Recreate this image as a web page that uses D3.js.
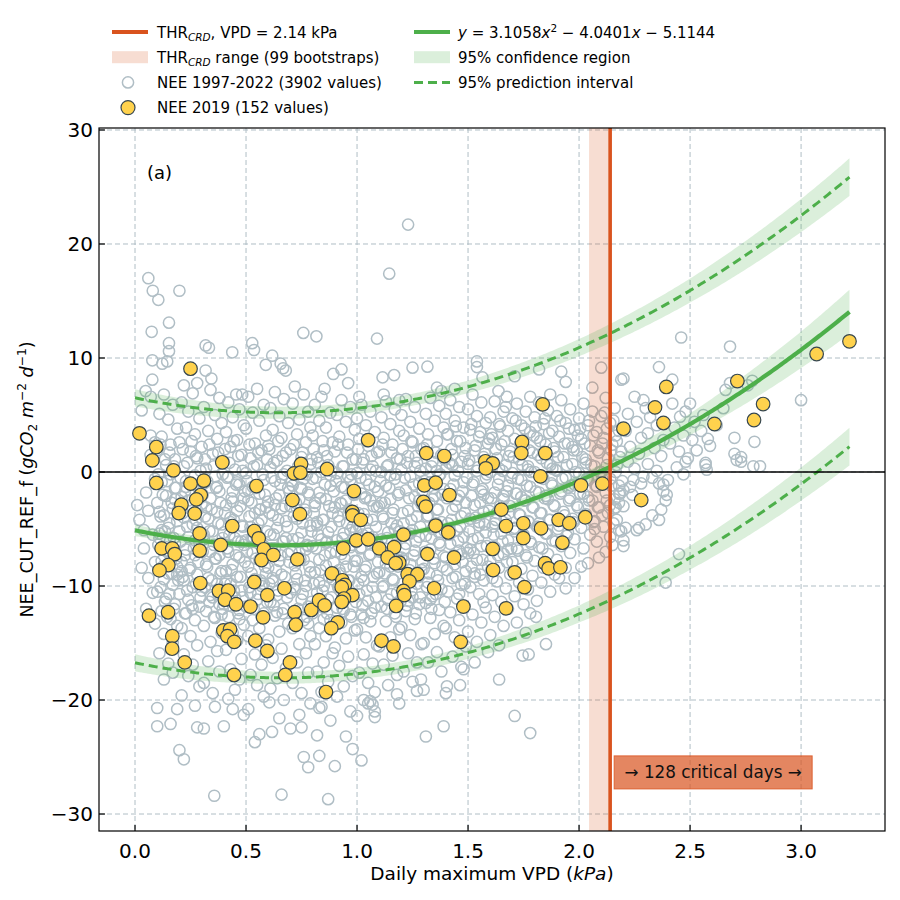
<!DOCTYPE html>
<html><head><meta charset="utf-8">
<script src="https://cdn.jsdelivr.net/npm/d3@7"></script>
<style>body{margin:0;background:#fff}svg{font-family:"DejaVu Sans",sans-serif}</style>
</head><body><svg id="c" width="900" height="900"></svg>
<script>
// ---------------- data ----------------
const fitCoef = [3.1058, -4.0401, -5.1144];   // y = a x^2 + b x + c
const thrVPD = 2.14;
const thrRange = [2.045, 2.145];
const criticalDays = 128;
const xTicks = [0, 0.5, 1, 1.5, 2, 2.5, 3];
const yTicks = [-30, -20, -10, 0, 10, 20, 30];
const fitXMax = 3.218;
// band half-widths read at these VPD values
const bandX      = [0, 0.5, 1, 1.5, 2, 2.5, 3, 3.218];
const confHW     = [0.5, 0.3, 0.25, 0.3, 0.5, 0.95, 1.6, 1.95];
const predHW     = [11.62, 11.62, 11.64, 11.66, 11.68, 11.72, 11.78, 11.82];
const predBandHW = [0.75, 0.55, 0.5, 0.55, 0.75, 1.05, 1.45, 1.65];

// NEE 1997-2022, flat pairs [vpd, nee, ...]
const greyPts = [
.03,5.4,.07,3.2,.01,-2.9,.05,-1.8,.09,-.6,.02,-4.2,.06,-3.4,.08,-5.5,.04,-6.7,.09,-7.9,.06,-9.3,.03,-8.4,.08,-10.6,.05,-12,.09,-13.3,.07,1.5,.09,2.6,.04,-5.1,.06,17,.08,15.9,.075,12.3,.078,9.8,.078,8.1,.048,7.1,.071,6.6,
.105,15.1,.153,13.1,.153,11.3,.153,10.6,.123,9.5,.145,9.7,.1,-20.7,.1,-22.3,.16,-22.1,.19,-20.8,
.13,6.8,.17,5.9,.11,5.1,.15,4.6,.19,3.8,.12,3.1,.16,2.4,.1,1.9,.18,1.1,.14,.6,.16,-.2,.12,-.9,.18,-1.4,.14,-2.1,.1,-2.7,.17,-3.2,.13,-3.8,.19,-4.3,.15,-4.9,.11,-5.4,.11,-5.8,.18,-6.3,.14,-6.9,.16,-7.4,.12,-7.8,.19,-8.3,.15,-8.9,.13,-9.4,.17,-9.9,.1,-10.5,.14,-11.1,.18,-11.6,.12,-12.2,.16,-12.9,.19,-13.5,.13,-14.2,.17,-15,.11,-15.9,.15,-16.8,.18,-2.4,.12,-5.1,.16,-7.1,.19,-9,.11,-3.5,.14,-6.6,.13,-18.2,.17,-17.6,
.2,15.9,.22,7.6,.28,7.8,.2,-24.4,.22,-25.2,.28,-22.4,
.26,6.9,.21,6.1,.24,5.3,.29,4.7,.23,3.9,.27,3.3,.2,2.6,.25,1.8,.28,1.2,.22,.5,.27,-.3,.23,-.8,.29,-1.6,.21,-2.2,.25,-2.9,.28,-3.4,.22,-4,.26,-4.6,.2,-5.2,.24,-5.7,.29,-6.2,.23,-6.8,.27,-7.3,.21,-7.9,.25,-8.4,.28,-9,.22,-9.5,.26,-10.1,.2,-10.7,.24,-11.2,.29,-11.8,.23,-12.4,.27,-13,.21,-13.7,.25,-14.4,.28,-15.2,.22,-16,.26,-16.9,.24,-17.9,.29,-18.8,.21,-19.6,.27,-20.5,.23,-1.3,.28,-4.9,.21,-8.7,.26,-12,.24,-2.5,.27,-6,
.318,11.1,.333,10.9,.318,8.9,.344,8.2,.31,-22.5,.357,-28.4,
.34,7.2,.38,6.5,.31,5.7,.36,5,.39,4.3,.33,3.6,.37,2.9,.3,2.2,.35,1.6,.39,.9,.32,.3,.36,-.4,.31,-1,.38,-1.7,.34,-2.3,.3,-2.8,.37,-3.5,.33,-4.1,.39,-4.6,.35,-5.2,.31,-5.9,.38,-6.4,.34,-7,.36,-7.6,.32,-8.1,.39,-8.7,.33,-9.3,.37,-9.8,.3,-10.4,.35,-11,.38,-11.6,.32,-12.2,.36,-12.8,.31,-13.5,.39,-14.1,.34,-14.9,.37,-15.7,.33,-16.6,.38,-17.5,.31,-18.5,.35,-19.4,.36,-20.6,.32,-3.1,.38,-7.3,.34,-10.8,.37,-1.3,.31,-5.5,.39,-12.5,
.438,10.5,.456,6.8,.483,6.8,.4,-22.3,.44,-20.8,
.42,6.1,.47,5.5,.44,4.8,.49,4.1,.41,3.5,.46,2.8,.43,2.2,.48,1.5,.4,.9,.45,.2,.42,-.4,.47,-1.1,.44,-1.7,.49,-2.3,.41,-2.9,.46,-3.4,.43,-4,.48,-4.7,.4,-5.3,.45,-5.8,.49,-6.4,.42,-7,.47,-7.5,.44,-8.1,.41,-8.7,.46,-9.2,.43,-9.8,.48,-10.4,.45,-11,.4,-11.6,.47,-12.1,.42,-12.7,.49,-13.4,.44,-14.1,.46,-14.8,.41,-15.6,.48,-16.4,.43,-17.3,.47,-18.2,.45,-19.1,.42,-19.9,.49,-21.3,.44,-2.6,.48,-6.1,.41,-9.5,.46,-.9,.43,-4.4,.47,-12.9,
.528,11.3,.536,10.7,.589,9.4,.56,-23,.54,-23.7,
.55,7.3,.51,6.6,.58,5.9,.53,5.2,.56,4.5,.5,3.8,.59,3.2,.54,2.5,.57,1.9,.52,1.2,.55,.6,.5,-.1,.58,-.7,.53,-1.3,.56,-1.9,.51,-2.5,.59,-3.1,.54,-3.6,.57,-4.2,.52,-4.8,.55,-5.4,.5,-6,.58,-6.5,.53,-7.1,.56,-7.7,.51,-8.3,.59,-8.9,.54,-9.4,.57,-10,.52,-10.6,.55,-11.2,.5,-11.8,.58,-12.4,.53,-13,.56,-13.7,.51,-14.4,.59,-15.2,.54,-16,.57,-16.9,.52,-17.8,.55,-18.7,.58,-19.7,.51,-20.8,.56,-3.3,.53,-5.7,.58,-9.8,.51,-1.6,.57,-12.7,
.605,-20.2,.617,-22.8,.618,10.2,.656,9.5,.679,8.9,.667,9.1,.66,-28.3,
.63,7,.67,6.4,.61,5.6,.65,4.9,.69,4.3,.62,3.7,.66,3,.6,2.3,.68,1.7,.64,1,.61,.4,.67,-.2,.63,-.8,.69,-1.4,.65,-2,.6,-2.6,.66,-3.2,.62,-3.8,.68,-4.3,.64,-4.9,.61,-5.5,.67,-6.1,.63,-6.7,.69,-7.2,.65,-7.8,.6,-8.4,.66,-9,.62,-9.6,.68,-10.2,.64,-10.8,.61,-11.4,.67,-12,.63,-12.6,.69,-13.3,.65,-14,.6,-14.7,.66,-15.5,.62,-16.3,.68,-17.2,.64,-18.1,.61,-19,.67,-20,.65,-21.6,.63,-2.9,.68,-5.8,.62,-9.3,.66,-.5,.64,-12.3,
.758,12.2,.7,-22.5,.75,-22.4,.74,-21.3,.76,-25,.78,-25.9,
.72,7.5,.76,6.8,.71,6,.78,5.3,.74,4.6,.79,3.9,.73,3.3,.77,2.6,.7,2,.75,1.3,.79,.7,.72,0,.76,-.6,.71,-1.2,.78,-1.8,.74,-2.4,.7,-3,.77,-3.6,.73,-4.1,.79,-4.7,.75,-5.3,.71,-5.9,.78,-6.5,.74,-7.1,.76,-7.7,.72,-8.2,.79,-8.8,.73,-9.4,.77,-10,.7,-10.6,.75,-11.2,.78,-11.8,.72,-12.4,.76,-13,.71,-13.7,.79,-14.4,.74,-15.1,.77,-15.9,.73,-16.7,.78,-17.6,.71,-18.5,.75,-19.4,.79,-20.3,.73,-3.3,.77,-6.8,.72,-10.3,.75,-1.5,.78,-13.3,
.817,11.9,.893,8.6,.854,7.3,.83,-20.7,.84,-20.6,.82,-23.1,.83,-24.9,.87,-28.7,
.84,6.6,.81,5.9,.88,5.2,.83,4.5,.86,3.9,.8,3.2,.89,2.6,.85,1.9,.82,1.3,.87,.6,.84,0,.8,-.6,.88,-1.2,.83,-1.8,.86,-2.4,.81,-3,.89,-3.6,.85,-4.2,.82,-4.7,.87,-5.3,.84,-5.9,.8,-6.5,.88,-7.1,.83,-7.7,.86,-8.2,.81,-8.8,.89,-9.4,.85,-10,.82,-10.6,.87,-11.2,.84,-11.8,.8,-12.4,.88,-13,.83,-13.7,.86,-14.4,.81,-15.1,.89,-15.9,.85,-16.7,.82,-17.5,.87,-18.4,.84,-19.3,.88,-21.8,.81,-2.7,.86,-6.2,.83,-9.7,.88,-.3,.85,-12.9,.82,-4.4,
.9,-25.8,.93,9,.96,7.8,
.93,6.3,.97,5.7,.91,5,.95,4.4,.99,3.7,.92,3.1,.96,2.4,.9,1.8,.98,1.1,.94,.5,.91,-.1,.97,-.7,.93,-1.3,.99,-1.9,.95,-2.5,.9,-3.1,.96,-3.7,.92,-4.3,.98,-4.8,.94,-5.4,.91,-6,.97,-6.6,.93,-7.2,.99,-7.8,.95,-8.3,.9,-8.9,.96,-9.5,.92,-10.1,.98,-10.7,.94,-11.3,.91,-11.9,.97,-12.5,.93,-13.2,.99,-13.9,.95,-14.6,.9,-15.4,.96,-16.2,.92,-17,.98,-17.9,.94,-18.8,.91,-19.7,.97,-21,.95,-23.2,.93,-2.8,.97,-5.1,.92,-8.6,.96,-.4,.94,-12.2,
1,-21.4,.98,-24.3,1.02,-25.3,1.01,6.6,1.05,-20.3,1.07,-20.4,1.08,-21,1.08,-21.5,1.03,-20,1.06,-20.1,1.09,11.7,
1.02,5.9,1.06,5.3,1,4.7,1.04,4.1,1.08,3.5,1.01,2.9,1.05,2.3,1.09,1.7,1.03,1.1,1.07,.5,1,-.1,1.04,-.7,1.08,-1.3,1.02,-1.9,1.06,-2.5,1.09,-3.1,1.03,-3.7,1.07,-4.2,1.01,-4.8,1.05,-5.4,1.08,-6,1.02,-6.6,1.06,-7.2,1,-7.8,1.04,-8.3,1.09,-8.9,1.03,-9.5,1.07,-10.1,1.01,-10.7,1.05,-11.3,1.08,-11.9,1.02,-12.5,1.06,-13.1,1,-13.8,1.04,-14.5,1.09,-15.2,1.03,-16,1.07,-16.8,1.01,-17.6,1.05,-18.5,1.08,-19.3,1.04,-2.2,1.07,-5.7,1.02,-9.2,1.06,.2,1.03,-12.8,
1.115,8.3,1.167,8.5,1.18,-19.5,1.19,-20.3,1.145,17.4,
1.13,6.2,1.17,5.5,1.11,4.8,1.15,4.2,1.19,3.6,1.12,3,1.16,2.4,1.1,1.8,1.18,1.2,1.14,.6,1.11,0,1.17,-.6,1.13,-1.2,1.19,-1.8,1.15,-2.4,1.1,-3,1.16,-3.6,1.12,-4.1,1.18,-4.7,1.14,-5.3,1.11,-5.9,1.17,-6.5,1.13,-7.1,1.19,-7.7,1.15,-8.3,1.1,-8.8,1.16,-9.4,1.12,-10,1.18,-10.6,1.14,-11.2,1.11,-11.8,1.17,-12.4,1.13,-13.1,1.19,-13.8,1.15,-14.5,1.1,-15.3,1.16,-16.1,1.12,-16.9,1.18,-17.8,1.14,-18.7,1.11,-2.7,1.17,-5,1.13,-8,1.15,-.3,1.18,-11.5,1.12,6.8,
1.23,21.7,1.25,9.15,1.19,6.3,
1.22,6.4,1.26,5.7,1.2,5,1.24,4.4,1.28,3.8,1.21,3.2,1.25,2.6,1.29,2,1.23,1.4,1.27,.8,1.2,.2,1.24,-.4,1.28,-1,1.22,-1.6,1.26,-2.2,1.29,-2.8,1.23,-3.4,1.27,-3.9,1.21,-4.5,1.25,-5.1,1.28,-5.7,1.22,-6.3,1.26,-6.9,1.2,-7.5,1.24,-8.1,1.29,-8.6,1.23,-9.2,1.27,-9.8,1.21,-10.4,1.25,-11,1.28,-11.6,1.22,-12.2,1.26,-12.9,1.2,-13.6,1.24,-14.3,1.29,-15.1,1.23,-15.9,1.27,-16.7,1.21,-17.5,1.25,-18.4,1.28,-2.5,1.24,-5.4,1.21,-7.8,1.26,.5,1.23,-11.3,1.27,-19.2,
1.317,9.24,1.36,7.4,1.288,-18.2,1.3,-19.1,1.31,-23.2,
1.33,6.5,1.37,5.8,1.31,5.1,1.35,4.5,1.39,3.9,1.32,3.3,1.36,2.7,1.3,2.1,1.38,1.5,1.34,.9,1.31,.3,1.37,-.3,1.33,-.9,1.39,-1.5,1.35,-2.1,1.3,-2.7,1.36,-3.3,1.32,-3.8,1.38,-4.4,1.34,-5,1.31,-5.6,1.37,-6.2,1.33,-6.8,1.39,-7.4,1.35,-8,1.3,-8.5,1.36,-9.1,1.32,-9.7,1.38,-10.3,1.34,-10.9,1.31,-11.5,1.37,-12.1,1.33,-12.8,1.39,-13.5,1.35,-14.2,1.3,-15,1.36,-15.8,1.32,-16.7,1.38,-17.5,1.34,-2.4,1.37,-5.3,1.32,-7.1,1.36,.1,1.33,-11.2,1.38,7.1,
1.39,-22.3,1.4,-19.4,1.405,-18.8,1.48,-17.3,1.464,-18.7,
1.42,6.3,1.46,5.7,1.4,5.1,1.44,4.5,1.48,3.9,1.41,3.3,1.45,2.7,1.49,2.1,1.43,1.5,1.47,.9,1.4,.3,1.44,-.3,1.48,-.9,1.42,-1.5,1.46,-2.1,1.49,-2.7,1.43,-3.3,1.47,-3.9,1.41,-4.5,1.45,-5.1,1.48,-5.7,1.42,-6.3,1.46,-6.9,1.4,-7.5,1.44,-8.1,1.49,-8.7,1.43,-9.3,1.47,-9.9,1.41,-10.5,1.45,-11.1,1.48,-11.7,1.42,-12.3,1.46,-13,1.4,-13.7,1.44,-14.5,1.49,-15.3,1.43,-16.2,1.47,-17.1,1.45,-2.4,1.41,-5.4,1.47,-7.2,1.43,.6,1.46,-10.7,1.44,7.3,
1.54,9.7,1.54,9.2,1.565,8.3,1.57,-11.4,
1.52,6.8,1.56,6.1,1.5,5.5,1.54,4.9,1.58,4.3,1.51,3.7,1.55,3.1,1.59,2.5,1.53,1.9,1.57,1.3,1.5,.7,1.54,.1,1.58,-.5,1.52,-1.1,1.56,-1.7,1.59,-2.3,1.53,-2.9,1.57,-3.5,1.51,-4.1,1.55,-4.7,1.58,-5.3,1.52,-5.9,1.56,-6.5,1.5,-7.1,1.54,-7.7,1.59,-8.3,1.53,-8.9,1.57,-9.5,1.51,-10.1,1.55,-10.7,1.58,-11.9,1.52,-12.5,1.56,-13.2,1.5,-14,1.54,-14.9,1.59,-15.8,1.53,-16.7,1.57,-2,1.55,-4.4,1.51,-6.8,1.58,.4,1.53,-9.2,
1.637,7.1,1.674,6.6,1.67,5.7,1.64,-18.2,
1.62,6.2,1.66,5.3,1.6,4.8,1.64,4.2,1.68,3.6,1.61,3,1.65,2.4,1.69,1.8,1.63,1.2,1.67,.6,1.6,0,1.64,-.6,1.68,-1.2,1.62,-1.8,1.66,-2.4,1.69,-3,1.63,-3.6,1.67,-4.2,1.61,-4.8,1.65,-5.4,1.68,-6,1.62,-6.6,1.66,-7.2,1.6,-7.8,1.64,-8.4,1.69,-9,1.63,-9.6,1.67,-10.2,1.61,-10.8,1.65,-11.4,1.68,-12,1.62,-12.7,1.66,-13.5,1.6,-14.3,1.64,-15.2,1.66,-2.1,1.62,-4.5,1.68,-6.8,1.64,.3,1.61,-9.3,
1.71,8.4,1.78,6.6,1.746,-16.1,1.773,-16,1.71,-21.4,1.78,-22.9,
1.72,6,1.76,5.3,1.7,4.7,1.74,4.1,1.78,3.5,1.71,2.9,1.75,2.3,1.79,1.7,1.73,1.1,1.77,.5,1.7,-.1,1.74,-.7,1.78,-1.3,1.72,-1.9,1.76,-2.5,1.79,-3.1,1.73,-3.7,1.77,-4.3,1.71,-4.9,1.75,-5.5,1.78,-6.1,1.72,-6.7,1.76,-7.3,1.7,-7.9,1.74,-8.5,1.79,-9.1,1.73,-9.7,1.77,-10.3,1.71,-10.9,1.75,-11.6,1.78,-12.4,1.72,-13.2,1.76,-14.1,1.74,-2.2,1.71,-5.2,1.77,.2,
1.82,9,1.87,6.8,1.806,-12.7,1.851,-15.1,
1.82,6.1,1.86,5.4,1.8,4.8,1.84,4.2,1.88,3.6,1.81,3,1.85,2.4,1.89,1.8,1.83,1.2,1.87,.6,1.8,0,1.84,-.6,1.88,-1.2,1.82,-1.8,1.86,-2.4,1.89,-3,1.83,-3.6,1.87,-4.2,1.81,-4.8,1.85,-5.4,1.88,-6,1.82,-6.6,1.86,-7.2,1.8,-7.8,1.84,-8.4,1.89,-9,1.83,-9.7,1.87,-10.5,1.81,-11.3,1.85,-2.1,1.82,-4.5,1.88,.3,
1.92,8.8,1.94,7.9,1.98,-9.3,1.94,-10.2,
1.92,6.3,1.96,5.5,1.9,4.9,1.94,4.3,1.98,3.7,1.91,3.1,1.95,2.5,1.99,1.9,1.93,1.3,1.97,.7,1.9,.1,1.94,-.5,1.98,-1.1,1.92,-1.7,1.96,-2.3,1.99,-2.9,1.93,-3.5,1.97,-4.1,1.91,-4.7,1.95,-5.3,1.98,-5.9,1.92,-6.5,1.96,-7.1,1.9,-7.7,1.94,-8.4,1.91,-9.3,1.95,-1.4,1.97,2.2,
2.01,-8.3,2.04,-8,2.09,-7.5,2.1,9.15,
2.02,6,2.06,5.3,2,4.7,2.04,4.1,2.08,3.5,2.01,2.9,2.05,2.3,2.09,1.7,2.03,1.1,2.07,.5,2,-.1,2.04,-.7,2.08,-1.3,2.02,-1.9,2.06,-2.5,2.09,-3.1,2.03,-3.7,2.07,-4.3,2.01,-4.9,2.05,-5.5,2.08,-6.1,2.02,-6.7,2.06,7.4,2.04,-2.2,2.07,-5,2.03,.8,
2.12,6.5,2.16,5.6,2.1,4.9,2.14,4.3,2.18,3.6,2.11,3,2.15,2.4,2.19,1.8,2.13,1.2,2.17,.6,2.1,0,2.14,-.6,2.18,-1.2,2.12,-1.8,2.16,-2.4,2.13,-3.6,2.17,-4.2,2.11,-4.8,2.15,-6.4,2.12,-7,2.14,-2.9,2.17,2.7,
2.195,-.8,2.2,-1.6,2.18,-1.9,2.24,-2,2.18,-2.7,2.2,-3,2.16,-3.2,2.155,-4.5,2.18,-5.1,2.2,-6,2.2,-6.5,2.14,-5.7,2.26,-5.1,2.27,-4.9,2.28,-1,2.245,-.7,2.19,-5.2,2.21,-4.9,2.25,6.6,2.29,6.3,2.22,5.1,2.26,4.4,2.21,3.6,2.28,3,2.23,2.2,2.27,1.6,2.22,.9,2.25,.3,2.29,-.4,2.23,-1.3,2.2,8.2,2.19,8.1,
2.3,-4.6,2.33,-3.8,2.36,-4.2,2.37,-3.3,2.39,-2.5,2.38,-1.7,2.395,-2,2.38,-1.1,2.36,-1,2.3,5.6,2.36,9.2,2.32,4.8,2.35,4.1,2.31,3.4,2.38,2.8,2.34,2.1,2.37,1.4,2.31,.7,2.35,.1,2.33,-.5,2.39,-9.7,
2.4,-.7,2.45,-7.2,2.48,.9,2.42,8.1,2.46,11.8,2.455,4.85,2.48,5.3,2.43,3.9,2.47,3.2,2.41,2.5,2.45,1.8,2.49,1.2,2.44,.4,2.42,6,2.47,-.2,
2.5,6,2.52,4.4,2.55,3.6,2.51,2.8,2.57,.8,2.575,.2,2.57,.6,2.53,1.9,2.58,2.9,2.56,5,
2.59,2.3,2.66,7.2,2.68,7.8,2.65,5.6,2.68,11,2.7,3,2.7,1.6,2.73,1.3,2.71,1.05,2.73,.9,2.79,2.65,2.785,.5,2.815,.5,2.62,4.1,3,6.3,2.76,7.6,2.78,8
];
// NEE 1997-2022, densest part of the cloud, flat pairs
const greyCore = [
.115,2.4,.155,1.7,.135,1.1,.175,.5,.105,-.2,.145,-.8,.185,-1.4,.125,-2,.165,-2.7,.195,-3.3,.115,-3.9,.155,-4.5,.135,-5.2,.175,-5.8,.105,-6.4,.145,-7,.185,-7.6,.125,-8.3,.165,-8.9,.195,-9.5,.115,-10.1,.155,-10.7,.135,-11.4,.175,-12,.145,-12.7,
.255,2.7,.215,2,.275,1.4,.235,.8,.295,.1,.205,-.5,.265,-1.1,.225,-1.7,.285,-2.3,.245,-3,.215,-3.6,.275,-4.2,.235,-4.8,.295,-5.5,.205,-6.1,.265,-6.7,.225,-7.3,.285,-7.9,.245,-8.6,.215,-9.2,.275,-9.8,.235,-10.4,.295,-11,.255,-11.7,.225,-12.4,
.335,2.4,.375,1.7,.315,1.1,.355,.5,.395,-.2,.325,-.8,.365,-1.4,.305,-2,.385,-2.7,.345,-3.3,.315,-3.9,.375,-4.5,.335,-5.2,.395,-5.8,.355,-6.4,.305,-7,.365,-7.6,.325,-8.3,.385,-8.9,.345,-9.5,.315,-10.1,.375,-10.7,.335,-11.4,.395,-12,.355,-12.7,
.445,2.7,.405,2,.465,1.4,.425,.8,.485,.1,.415,-.5,.455,-1.1,.495,-1.7,.435,-2.3,.475,-3,.405,-3.6,.445,-4.2,.485,-4.8,.425,-5.5,.465,-6.1,.415,-6.7,.455,-7.3,.495,-7.9,.435,-8.6,.475,-9.2,.405,-9.8,.445,-10.4,.485,-11,.425,-11.7,.465,-12.4,
.515,2.4,.555,1.7,.595,1.1,.535,.5,.575,-.2,.505,-.8,.545,-1.4,.585,-2,.525,-2.7,.565,-3.3,.515,-3.9,.555,-4.5,.595,-5.2,.535,-5.8,.575,-6.4,.505,-7,.545,-7.6,.585,-8.3,.525,-8.9,.565,-9.5,.515,-10.1,.555,-10.7,.595,-11.4,.535,-12,.575,-12.7,
.645,2.7,.605,2,.665,1.4,.625,.8,.685,.1,.615,-.5,.655,-1.1,.695,-1.7,.635,-2.3,.675,-3,.605,-3.6,.645,-4.2,.685,-4.8,.625,-5.5,.665,-6.1,.615,-6.7,.655,-7.3,.695,-7.9,.635,-8.6,.675,-9.2,.605,-9.8,.645,-10.4,.685,-11,.625,-11.7,.665,-12.4,
.715,2.4,.755,1.7,.795,1.1,.735,.5,.775,-.2,.705,-.8,.745,-1.4,.785,-2,.725,-2.7,.765,-3.3,.715,-3.9,.755,-4.5,.795,-5.2,.735,-5.8,.775,-6.4,.705,-7,.745,-7.6,.785,-8.3,.725,-8.9,.765,-9.5,.715,-10.1,.755,-10.7,.795,-11.4,.735,-12,.775,-12.7,
.845,2.7,.805,2,.865,1.4,.825,.8,.885,.1,.815,-.5,.855,-1.1,.895,-1.7,.835,-2.3,.875,-3,.805,-3.6,.845,-4.2,.885,-4.8,.825,-5.5,.865,-6.1,.815,-6.7,.855,-7.3,.895,-7.9,.835,-8.6,.875,-9.2,.805,-9.8,.845,-10.4,.885,-11,.825,-11.7,.865,-12.4,
.915,2.4,.955,1.7,.995,1.1,.935,.5,.975,-.2,.905,-.8,.945,-1.4,.985,-2,.925,-2.7,.965,-3.3,.915,-3.9,.955,-4.5,.995,-5.2,.935,-5.8,.975,-6.4,.905,-7,.945,-7.6,.985,-8.3,.925,-8.9,.965,-9.5,.915,-10.1,.955,-10.7,.995,-11.4,.935,-12,.975,-12.7,
1.045,2.7,1.005,2,1.065,1.4,1.025,.8,1.085,.1,1.015,-.5,1.055,-1.1,1.095,-1.7,1.035,-2.3,1.075,-3,1.005,-3.6,1.045,-4.2,1.085,-4.8,1.025,-5.5,1.065,-6.1,1.015,-6.7,1.055,-7.3,1.095,-7.9,1.035,-8.6,1.075,-9.2,1.005,-9.8,1.045,-10.4,1.085,-11,1.025,-11.7,1.065,-12.4,
1.115,2.4,1.155,1.7,1.195,1.1,1.135,.5,1.175,-.2,1.105,-.8,1.145,-1.4,1.185,-2,1.125,-2.7,1.165,-3.3,1.115,-3.9,1.155,-4.5,1.195,-5.2,1.135,-5.8,1.175,-6.4,1.105,-7,1.145,-7.6,1.185,-8.3,1.125,-8.9,1.165,-9.5,1.115,-10.1,1.155,-10.7,1.195,-11.4,1.135,-12,1.175,-12.7,
1.245,2.7,1.205,2,1.265,1.4,1.225,.8,1.285,.1,1.215,-.5,1.255,-1.1,1.295,-1.7,1.235,-2.3,1.275,-3,1.205,-3.6,1.245,-4.2,1.285,-4.8,1.225,-5.5,1.265,-6.1,1.215,-6.7,1.255,-7.3,1.295,-7.9,1.235,-8.6,1.275,-9.2,1.205,-9.8,1.245,-10.4,1.285,-11,1.225,-11.7,1.265,-12.4,
1.315,2.4,1.355,1.7,1.395,1.1,1.335,.5,1.375,-.2,1.305,-.8,1.345,-1.4,1.385,-2,1.325,-2.7,1.365,-3.3,1.315,-3.9,1.355,-4.5,1.395,-5.2,1.335,-5.8,1.375,-6.4,1.305,-7,1.345,-7.6,1.385,-8.3,1.325,-8.9,1.365,-9.5,1.315,-10.1,1.355,-10.7,1.395,-11.4,1.335,-12,
1.445,4,1.405,3.3,1.465,2.7,1.425,2,1.485,1.4,1.415,.8,1.455,.1,1.495,-.5,1.435,-1.1,1.475,-1.7,1.405,-2.3,1.445,-3,1.485,-3.6,1.425,-4.2,1.465,-4.8,1.415,-5.5,1.455,-6.1,1.495,-6.7,1.435,-7.3,1.475,-7.9,1.405,-8.6,1.445,-9.2,1.485,-9.8,
1.515,4.2,1.555,3.5,1.595,2.9,1.535,2.3,1.575,1.6,1.505,1,1.545,.4,1.585,-.2,1.525,-.9,1.565,-1.5,1.515,-2.1,1.555,-2.7,1.595,-3.4,1.535,-4,1.575,-4.6,1.505,-5.2,1.545,-5.8,1.585,-6.5,1.525,-7.1,1.565,-7.7,1.515,-8.3,1.555,-9,
1.645,4,1.605,3.3,1.665,2.7,1.625,2,1.685,1.4,1.615,.8,1.655,.1,1.695,-.5,1.635,-1.1,1.675,-1.7,1.605,-2.3,1.645,-3,1.685,-3.6,1.625,-4.2,1.665,-4.8,1.615,-5.5,1.655,-6.1,1.695,-6.7,1.635,-7.3,1.675,-7.9,1.605,-8.6,
1.715,4.5,1.755,3.8,1.795,3.2,1.735,2.5,1.775,1.9,1.705,1.3,1.745,.6,1.785,0,1.725,-.6,1.765,-1.2,1.715,-1.9,1.755,-2.5,1.795,-3.1,1.735,-3.8,1.775,-4.4,1.705,-5,1.745,-5.6,1.785,-6.3,1.725,-6.9,1.765,-7.5,
1.845,4.7,1.805,4,1.865,3.4,1.825,2.7,1.885,2.1,1.815,1.5,1.855,.8,1.895,.2,1.835,-.4,1.875,-1,1.805,-1.7,1.845,-2.3,1.885,-2.9,1.825,-3.6,1.865,-4.2,1.815,-4.8,1.855,-5.4,1.895,-6.1,1.835,-6.7,
1.915,4.5,1.955,3.8,1.995,3.2,1.935,2.5,1.975,1.9,1.905,1.3,1.945,.6,1.985,0,1.925,-.6,1.965,-1.2,1.915,-1.9,1.955,-2.5,1.995,-3.1,1.935,-3.8,1.975,-4.4,1.905,-5,1.945,-5.6,
2.045,4.5,2.005,3.8,2.065,3.2,2.025,2.5,2.085,1.9,2.015,1.3,2.055,.6,2.095,0,2.035,-.6,2.075,-1.2,2.005,-1.9,2.045,-2.5,2.085,-3.1,2.025,-3.8,2.065,-4.4,
2.115,5.2,2.155,4.5,2.125,3.8,2.165,3.2,2.105,2.5,2.145,1.9,2.185,1.3,2.125,.6,2.165,0,2.105,-.6,2.145,-1.2,2.185,-1.9,2.125,-2.5,2.165,-3.1,2.105,-3.8
];

// NEE 2019 (152 values), pairs [vpd, nee]
const pts2019 = [
[0.02,3.39],[0.096,2.19],[0.078,1.02],[0.173,0.14],[0.393,0.85],[0.096,-0.96],[0.25,-1.02],[0.31,-0.76],[0.296,-2.02],[0.276,-2.4],[0.209,-2.87],[0.197,-3.6],[0.269,-3.65],[0.547,-1.23],[0.748,0.70],[0.716,-0.12],[0.745,-0.06],[0.865,0.26],[0.709,-2.46],[0.743,-3.7],[0.986,-1.67],[0.979,-3.5],[1.05,2.8],[0.25,9.06],
[1.836,5.93],[1.312,1.66],[1.393,1.4],[1.578,0.94],[1.611,0.76],[1.58,0.32],[1.743,2.63],[1.74,1.66],[1.848,1.66],[1.826,-0.38],[2.009,-1.17],[2.105,-1.02],[2.2,3.8],[1.303,-1.17],[1.354,-0.94],[1.416,-2.02],[1.299,-2.63],[1.31,-3.04],[1.65,-3.3],
[2.393,7.46],[2.342,5.67],[2.38,4.3],[2.61,4.21],[2.713,7.98],[2.829,5.96],[2.788,4.56],[3.07,10.35],[3.218,11.46],[2.28,-2.46],
[0.98,-3.8],[1.017,-4.2],[0.438,-4.74],[0.291,-5.38],[0.537,-5.18],[0.557,-5.82],[0.386,-6.4],[0.12,-6.7],[0.168,-6.7],[0.179,-7.2],[0.291,-6.9],[0.58,-6.78],[0.15,-8.16],[0.11,-8.63],[0.57,-7.72],[0.623,-7.28],[0.731,-7.66],[0.997,-6.0],[1.05,-5.9],[0.938,-6.7],[0.887,-8.9],[0.934,-9.5],[0.945,-9.9],[0.931,-10.1],[0.979,-10.8],[0.941,-11.1],[0.931,-11.4],[0.294,-9.74],[0.537,-9.65],[0.596,-10.8],[0.673,-10.2],[0.378,-10.44],[0.42,-10.4],[0.405,-11.2],[0.455,-11.6],[0.52,-11.8],[0.577,-12.75],[0.719,-12.3],[0.724,-13.4],[0.794,-12.1],[0.829,-11.25],[0.854,-11.7],[0.913,-13.2],[0.884,-13.7],[0.063,-12.6],[0.149,-12.3],[0.168,-14.4],[0.167,-15.5],[0.224,-16.7],[0.398,-13.9],[0.428,-13.8],[0.416,-14.4],[0.447,-14.9],[0.542,-14.8],[0.596,-15.7],[0.698,-16.7],[0.446,-17.8],[0.677,-17.8],[0.86,-19.3],
[1.1,-6.7],[1.167,-6.6],[1.138,-7.5],[1.19,-7.96],[1.174,-8.0],[1.228,-8.97],[1.272,-8.97],[1.236,-9.6],[1.209,-5.5],[1.354,-4.7],[1.411,-5.3],[1.317,-7.2],[1.437,-7.5],[1.209,-10.44],[1.213,-10.8],[1.347,-10.2],[1.176,-11.75],[1.479,-11.8],[1.11,-14.8],[1.164,-15.3],[1.467,-14.9],[1.671,-4.74],[1.749,-4.5],[1.749,-5.8],[1.829,-4.94],[1.908,-4.2],[1.956,-4.5],[2.028,-3.97],[1.925,-6.2],[1.611,-6.75],[1.613,-8.6],[1.71,-8.8],[1.754,-10.1],[1.671,-11.96],[1.847,-8.0],[1.863,-8.45],[1.916,-8.36]
];

// ---------------- drawing ----------------
const svg = d3.select('#c');
const M = {l: 99, r: 885, t: 128, b: 831};
const x = d3.scaleLinear().domain([-0.1622, 3.378]).range([M.l, M.r]);
const y = d3.scaleLinear().domain([-31.49, 30.175]).range([M.b, M.t]);

const RED = '#d9531e', GREEN = '#4daf4a', GREYC = '#b0bec5', YEL = '#ffd24d', EDGE = '#37474f';

svg.append('defs').append('clipPath').attr('id', 'clip')
  .append('rect').attr('x', M.l).attr('y', M.t).attr('width', M.r - M.l).attr('height', M.b - M.t);
const P = svg.append('g').attr('clip-path', 'url(#clip)');

// grid
P.selectAll('.gx').data(xTicks).join('line')
  .attr('x1', d => x(d)).attr('x2', d => x(d)).attr('y1', M.t).attr('y2', M.b)
  .attr('stroke', GREYC).attr('stroke-width', 1).attr('stroke-dasharray', '5,3');
P.selectAll('.gy').data(yTicks).join('line')
  .attr('y1', d => y(d)).attr('y2', d => y(d)).attr('x1', M.l).attr('x2', M.r)
  .attr('stroke', GREYC).attr('stroke-width', 1).attr('stroke-dasharray', '5,3');

// grey points
const toPairs = a => d3.range(0, a.length, 2).map(i => [a[i], a[i + 1]]);
const greyPairs = toPairs(greyPts).concat(toPairs(greyCore));
P.append('g').selectAll('circle').data(greyPairs).join('circle')
  .attr('cx', d => x(d[0])).attr('cy', d => y(d[1])).attr('r', 5.6)
  .attr('fill', 'none').attr('stroke', GREYC).attr('stroke-width', 1.5);

// threshold range band
P.append('rect').attr('x', x(thrRange[0])).attr('width', x(thrRange[1]) - x(thrRange[0]))
  .attr('y', M.t).attr('height', M.b - M.t).attr('fill', RED).attr('fill-opacity', 0.2);

// fit + bands
const fit = v => fitCoef[0] * v * v + fitCoef[1] * v + fitCoef[2];
const hwC = d3.scaleLinear().domain(bandX).range(confHW);
const hwP = d3.scaleLinear().domain(bandX).range(predHW);
const hwPB = d3.scaleLinear().domain(bandX).range(predBandHW);
const xs = d3.range(0, fitXMax, 0.01).concat([fitXMax]);

const area = (fc, fw) => d3.area().x(v => x(v)).y0(v => y(fc(v) - fw(v))).y1(v => y(fc(v) + fw(v)));
const up = v => fit(v) + hwP(v), lo = v => fit(v) - hwP(v);
[[fit, hwC], [up, hwPB], [lo, hwPB]].forEach(([fc, fw]) => {
  P.append('path').datum(xs).attr('d', area(fc, fw)).attr('fill', GREEN).attr('fill-opacity', 0.2).attr('stroke', 'none');
});
const line = fc => d3.line().x(v => x(v)).y(v => y(fc(v)));
P.append('path').datum(xs).attr('d', line(fit)).attr('fill', 'none').attr('stroke', GREEN).attr('stroke-width', 4.2);
[up, lo].forEach(fc => P.append('path').datum(xs).attr('d', line(fc)).attr('fill', 'none')
  .attr('stroke', GREEN).attr('stroke-width', 3).attr('stroke-dasharray', '9,5'));

// zero line
P.append('line').attr('x1', M.l).attr('x2', M.r).attr('y1', y(0)).attr('y2', y(0))
  .attr('stroke', '#000').attr('stroke-width', 1.5);

// 2019 points
P.append('g').selectAll('circle').data(pts2019).join('circle')
  .attr('cx', d => x(d[0])).attr('cy', d => y(d[1])).attr('r', 6.8)
  .attr('fill', YEL).attr('stroke', EDGE).attr('stroke-width', 1.2);

// threshold line
P.append('line').attr('x1', x(thrVPD)).attr('x2', x(thrVPD)).attr('y1', M.t).attr('y2', M.b)
  .attr('stroke', RED).attr('stroke-width', 3.6);

// annotation
const ann = svg.append('g');
ann.append('rect').attr('x', x(2.158)).attr('y', y(-24.9)).attr('width', x(3.05) - x(2.158)).attr('height', y(-27.8) - y(-24.9))
  .attr('fill', RED).attr('fill-opacity', 0.7).attr('stroke', RED).attr('stroke-opacity', 0.8).attr('stroke-width', 1);
ann.append('text').attr('x', (x(2.158) + x(3.05)) / 2).attr('y', y(-26.35)).attr('dy', '0.35em')
  .attr('text-anchor', 'middle').attr('font-size', 16.8).attr('fill', '#111')
  .text(`\u2192 ${criticalDays} critical days \u2192`);

// (a)
svg.append('text').attr('x', 147).attr('y', 179).attr('font-size', 18).text('(a)');

// frame
svg.append('rect').attr('x', M.l).attr('y', M.t).attr('width', M.r - M.l).attr('height', M.b - M.t)
  .attr('fill', 'none').attr('stroke', '#000').attr('stroke-width', 1.2);

// ticks (inward)
const T = svg.append('g');
xTicks.forEach(t => {
  T.append('line').attr('x1', x(t)).attr('x2', x(t)).attr('y1', M.b).attr('y2', M.b - 6).attr('stroke', '#000').attr('stroke-width', 1.2);
  T.append('text').attr('x', x(t)).attr('y', M.b + 27).attr('text-anchor', 'middle').attr('font-size', 20).text(d3.format('.1f')(t));
});
yTicks.forEach(t => {
  T.append('line').attr('x1', M.l).attr('x2', M.l + 6).attr('y1', y(t)).attr('y2', y(t)).attr('stroke', '#000').attr('stroke-width', 1.2);
  T.append('text').attr('x', M.l - 6).attr('y', y(t)).attr('dy', '0.36em').attr('text-anchor', 'end').attr('font-size', 20).text(d3.format('d')(t));
});

// rich text helper
function rich(sel, segs, size) {
  let shift = 0;
  segs.forEach(([s, f]) => {
    const t = sel.append('tspan').text(s);
    let target = 0, fs = size;
    if (f.includes('b')) { target = size * 0.25; fs = size * 0.7; }
    if (f.includes('p')) { target = -size * 0.4; fs = size * 0.7; }
    t.attr('dy', target - shift).attr('font-size', fs);
    if (f.includes('i')) t.attr('font-style', 'italic');
    shift = target;
  });
}

// axis labels
rich(svg.append('text').attr('x', (M.l + M.r) / 2).attr('y', 880).attr('text-anchor', 'middle'),
  [['Daily maximum VPD (', ''], ['kPa', 'i'], [')', '']], 18.5);
rich(svg.append('text').attr('transform', `translate(33,${(M.t + M.b) / 2}) rotate(-90)`).attr('text-anchor', 'middle'),
  [['NEE_CUT_REF_f (', ''], ['gCO', 'i'], ['2', 'b'], [' m', 'i'], ['\u22122', 'p'], [' d', 'i'], ['\u22121', 'p'], [')', '']], 17.5);

// legend
const L = svg.append('g');
const rowY = i => 32 + 25.2 * i;
const FS = 15;
// column 1
L.append('line').attr('x1', 112).attr('x2', 148).attr('y1', rowY(0)).attr('y2', rowY(0)).attr('stroke', RED).attr('stroke-width', 4);
rich(L.append('text').attr('x', 157).attr('y', rowY(0) + 5.5), [['THR', ''], ['CRD', 'ib'], [', VPD = 2.14 kPa', '']], FS);
L.append('rect').attr('x', 112).attr('y', rowY(1) - 6).attr('width', 36).attr('height', 12).attr('fill', RED).attr('fill-opacity', 0.2);
rich(L.append('text').attr('x', 157).attr('y', rowY(1) + 5.5), [['THR', ''], ['CRD', 'ib'], [' range (99 bootstraps)', '']], FS);
L.append('circle').attr('cx', 128).attr('cy', rowY(2)).attr('r', 5.6).attr('fill', 'none').attr('stroke', GREYC).attr('stroke-width', 1.5);
L.append('text').attr('x', 157).attr('y', rowY(2) + 5.5).attr('font-size', FS).text('NEE 1997-2022 (3902 values)');
L.append('circle').attr('cx', 128).attr('cy', rowY(3)).attr('r', 7).attr('fill', YEL).attr('stroke', EDGE).attr('stroke-width', 1.2);
L.append('text').attr('x', 157).attr('y', rowY(3) + 5.5).attr('font-size', FS).text('NEE 2019 (152 values)');
// column 2
L.append('line').attr('x1', 414).attr('x2', 450).attr('y1', rowY(0)).attr('y2', rowY(0)).attr('stroke', GREEN).attr('stroke-width', 4.2);
rich(L.append('text').attr('x', 458).attr('y', rowY(0) + 5.5),
  [['y', 'i'], [' = 3.1058', ''], ['x', 'i'], ['2', 'p'], [' \u2212 4.0401', ''], ['x', 'i'], [' \u2212 5.1144', '']], FS);
L.append('rect').attr('x', 414).attr('y', rowY(1) - 6).attr('width', 36).attr('height', 12).attr('fill', GREEN).attr('fill-opacity', 0.2);
L.append('text').attr('x', 458).attr('y', rowY(1) + 5.5).attr('font-size', FS).text('95% confidence region');
L.append('line').attr('x1', 414).attr('x2', 450).attr('y1', rowY(2)).attr('y2', rowY(2)).attr('stroke', GREEN).attr('stroke-width', 3).attr('stroke-dasharray', '9,5');
L.append('text').attr('x', 458).attr('y', rowY(2) + 5.5).attr('font-size', FS).text('95% prediction interval');
</script>
</body></html>
